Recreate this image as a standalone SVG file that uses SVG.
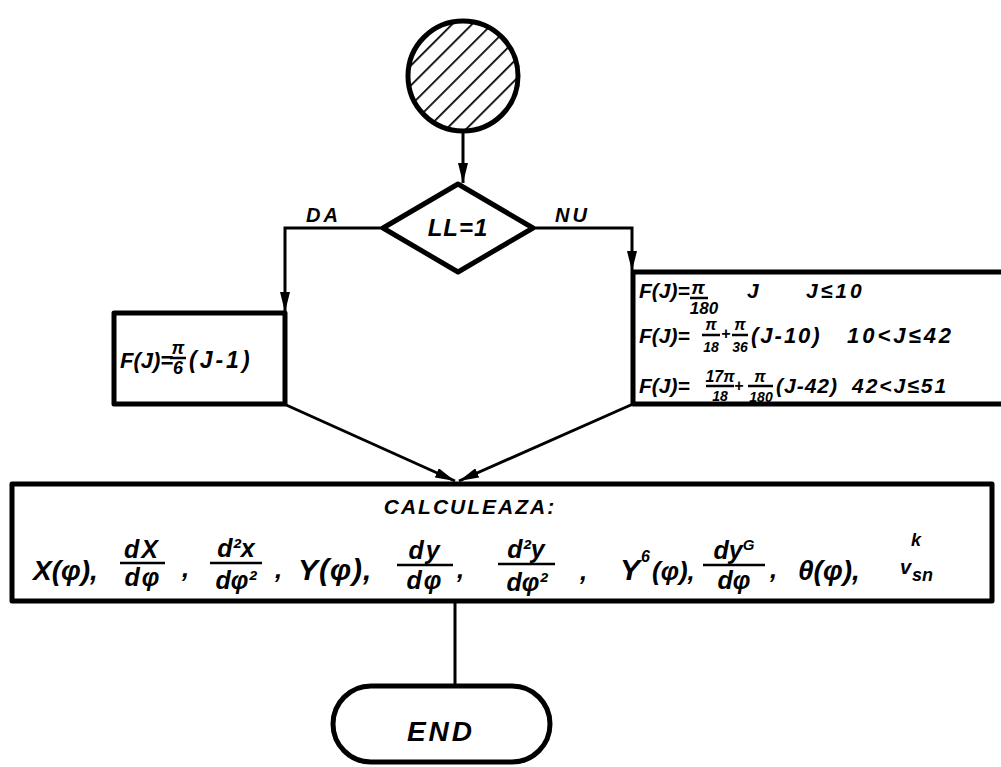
<svg xmlns="http://www.w3.org/2000/svg" width="1001" height="767" viewBox="0 0 1001 767">
<style>
.t{font-family:"Liberation Sans",Arial,sans-serif;font-weight:bold;font-style:italic;fill:#000}
.box{fill:#fff;stroke:#000;stroke-width:5;stroke-linejoin:round}
.ln{fill:none;stroke:#000;stroke-width:3}
.bar{stroke:#000;stroke-width:2.5}
.m{text-anchor:middle}
</style>
<defs>
<marker id="ah" viewBox="0 0 20 10" refX="20" refY="5" markerWidth="20" markerHeight="10" markerUnits="userSpaceOnUse" orient="auto">
<path d="M0,0 L20,5 L0,10 z" fill="#000"/>
</marker>
<pattern id="hatch" patternUnits="userSpaceOnUse" width="14" height="14" patternTransform="rotate(45)">
<line x1="0" y1="0" x2="0" y2="14" stroke="#000" stroke-width="3.5"/>
</pattern>
</defs>
<rect width="1001" height="767" fill="#fff"/>

<g id="connectors">
<line class="ln" x1="463" y1="131" x2="463" y2="183" marker-end="url(#ah)"/>
<polyline class="ln" points="383,228 285,228 285,312" marker-end="url(#ah)"/>
<polyline class="ln" points="533,228 632,228 632,271" marker-end="url(#ah)"/>
<line class="ln" x1="284" y1="404" x2="455" y2="481" marker-end="url(#ah)"/>
<line class="ln" x1="633" y1="404" x2="459" y2="481" marker-end="url(#ah)"/>
<line class="ln" x1="455" y1="602" x2="455" y2="686"/>
<text class="t" x="306" y="222" font-size="20" letter-spacing="3">DA</text>
<text class="t" x="555" y="222" font-size="20" letter-spacing="3">NU</text>
</g>

<g id="start">
<circle cx="463" cy="76" r="55" fill="url(#hatch)" stroke="#000" stroke-width="5"/>
</g>

<g id="decision">
<polygon class="box" points="458,184 533,228 458,272 383,228" stroke-width="6"/>
<text class="t m" x="458" y="236" font-size="24" letter-spacing="1">LL=1</text>
</g>

<g id="box-da">
<rect class="box" x="114" y="313" width="171" height="91"/>
<text class="t" x="120" y="368" font-size="22">F(J)=</text>
<text class="t m" x="178" y="354" font-size="18">π</text>
<line class="bar" x1="170" y1="358" x2="186" y2="358"/>
<text class="t m" x="178" y="374" font-size="18">6</text>
<text class="t" x="189" y="368" font-size="23" letter-spacing="3">(J-1)</text>
</g>

<g id="box-nu">
<rect class="box" x="633" y="272" width="375" height="132"/>
<text class="t" x="639" y="298" font-size="21">F(J)=</text>
<text class="t m" x="698" y="294" font-size="19">π</text>
<line class="bar" x1="690" y1="298" x2="708" y2="298"/>
<text class="t m" x="704" y="314" font-size="17">180</text>
<text class="t" x="747" y="298" font-size="21">J</text>
<text class="t" x="806" y="298" font-size="21" letter-spacing="3">J≤10</text>

<text class="t" x="639" y="343" font-size="21">F(J)=</text>
<text class="t m" x="711" y="330" font-size="16">π</text>
<line class="bar" x1="702" y1="335" x2="720" y2="335"/>
<text class="t m" x="711" y="352" font-size="14">18</text>
<text class="t" x="721" y="339" font-size="16">+</text>
<text class="t m" x="740" y="330" font-size="16">π</text>
<line class="bar" x1="732" y1="335" x2="748" y2="335"/>
<text class="t m" x="740" y="352" font-size="14">36</text>
<text class="t" x="751" y="343" font-size="22" letter-spacing="2">(J-10)</text>
<text class="t" x="847" y="343" font-size="22" letter-spacing="3">10&lt;J≤42</text>

<text class="t" x="639" y="393" font-size="21">F(J)=</text>
<text class="t m" x="720" y="382" font-size="16">17π</text>
<line class="bar" x1="706" y1="386" x2="734" y2="386"/>
<text class="t m" x="720" y="401" font-size="14">18</text>
<text class="t" x="734" y="391" font-size="16">+</text>
<text class="t m" x="760" y="382" font-size="16">π</text>
<line class="bar" x1="748" y1="386" x2="773" y2="386"/>
<text class="t m" x="761" y="402" font-size="14">180</text>
<text class="t" x="776" y="393" font-size="21" letter-spacing="1">(J-42)</text>
<text class="t" x="852" y="393" font-size="21" letter-spacing="2">42&lt;J≤51</text>
</g>

<g id="calc">
<rect class="box" x="12" y="484" width="980" height="117"/>
<text class="t m" x="470" y="514" font-size="21" letter-spacing="2">CALCULEAZA:</text>
<text class="t" x="33" y="580" font-size="28">X(φ),</text>
<text class="t m" x="142" y="558" font-size="25" letter-spacing="2">dX</text>
<line class="bar" x1="120" y1="563" x2="165" y2="563"/>
<text class="t m" x="143" y="586" font-size="25" letter-spacing="2">dφ</text>
<text class="t" x="182" y="577" font-size="26">,</text>
<text class="t m" x="236" y="557" font-size="25">d²x</text>
<line class="bar" x1="210" y1="563" x2="262" y2="563"/>
<text class="t m" x="236" y="589" font-size="25">dφ²</text>
<text class="t" x="275" y="578" font-size="26">,</text>
<text class="t" x="298" y="580" font-size="30" letter-spacing="1">Y(φ),</text>
<text class="t m" x="425" y="559" font-size="25" letter-spacing="2">dy</text>
<line class="bar" x1="397" y1="565" x2="453" y2="565"/>
<text class="t m" x="425" y="589" font-size="25" letter-spacing="2">dφ</text>
<text class="t" x="457" y="578" font-size="26">,</text>
<text class="t m" x="526" y="558" font-size="25">d²y</text>
<line class="bar" x1="498" y1="564" x2="555" y2="564"/>
<text class="t m" x="527" y="591" font-size="25">dφ²</text>
<text class="t" x="580" y="580" font-size="26">,</text>
<text class="t" x="620" y="580" font-size="30">Y</text>
<text class="t" x="641" y="562" font-size="16">6</text>
<text class="t" x="652" y="580" font-size="26">(φ),</text>
<text class="t m" x="734" y="559" font-size="25">dy<tspan font-size="15" dy="-9">G</tspan></text>
<line class="bar" x1="703" y1="565" x2="765" y2="565"/>
<text class="t m" x="734" y="589" font-size="25">dφ</text>
<text class="t" x="770" y="578" font-size="26">,</text>
<text class="t" x="798" y="580" font-size="28">θ(φ),</text>
<text class="t" x="911" y="546" font-size="18">k</text>
<text class="t" x="900" y="574" font-size="20">v</text>
<text class="t" x="912" y="581" font-size="18">sn</text>
</g>

<g id="end">
<rect class="box" x="333" y="686" width="217" height="76" rx="38"/>
<text class="t m" x="441" y="741" font-size="28" letter-spacing="3">END</text>
</g>
</svg>
